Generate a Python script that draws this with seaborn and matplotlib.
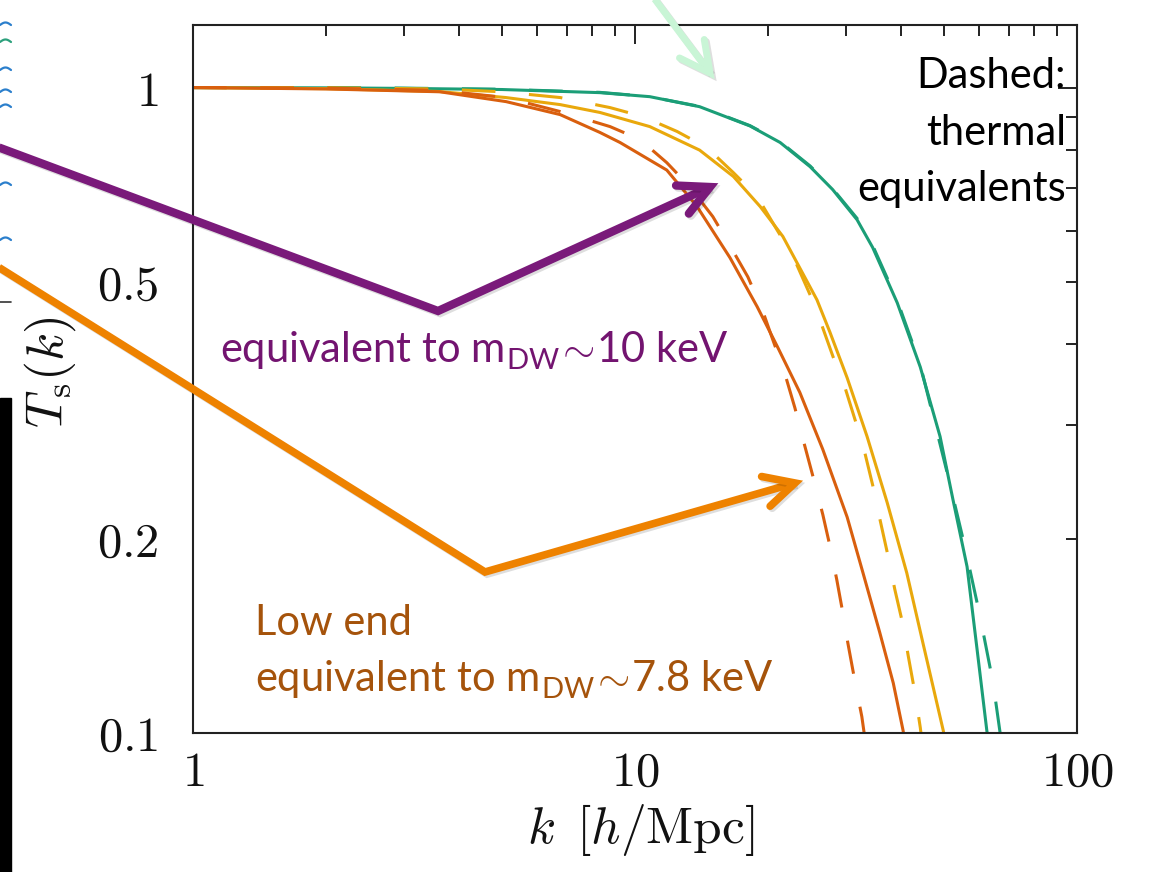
import numpy as np
import pandas as pd
import matplotlib
matplotlib.use("Agg")
import matplotlib.pyplot as plt
import seaborn as sns
from matplotlib.ticker import FixedLocator, FuncFormatter, NullFormatter
from matplotlib.lines import Line2D
from matplotlib.patches import Rectangle
import matplotlib.patheffects as pe

# ---------------- data ----------------
k_green_solid = [1.0, 2.0, 3.0, 5.0, 8.33, 10.8, 14.0, 18.2, 21.3, 24.9, 28.0, 31.8, 34.5,
                 39.2, 44.2, 49.0, 52.4, 56.4, 59.4, 62.5, 63.3]
T_green_solid = [1.0, 0.999, 0.997, 0.993, 0.982, 0.968, 0.934, 0.872, 0.822, 0.754, 0.695, 0.624,
                 0.565, 0.464, 0.369, 0.288, 0.230, 0.181, 0.135, 0.101, 0.095]

k_green_dash = [1.0, 2.0, 3.0, 5.0, 8.33, 10.8, 14.0, 18.2, 21.3, 24.9, 28.0, 31.8, 34.5,
                39.2, 44.2, 51.3, 55.8, 60.3, 64.6, 67.0, 68.0]
T_green_dash = [1.0, 1.0, 0.998, 0.994, 0.983, 0.968, 0.935, 0.873, 0.824, 0.756, 0.697, 0.627,
                0.569, 0.468, 0.372, 0.247, 0.194, 0.152, 0.1195, 0.100, 0.095]

k_yellow_solid = [1.0, 2.0, 3.6, 5.1, 6.77, 8.33, 10.8, 14.0, 16.7, 19.2, 21.6, 25.8, 27.6,
                  30.2, 33.5, 37.2, 41.2, 44.8, 49.8, 50.5]
T_yellow_solid = [1.0, 0.996, 0.986, 0.965, 0.941, 0.915, 0.870, 0.800, 0.728, 0.654, 0.588,
                  0.469, 0.418, 0.355, 0.288, 0.2275, 0.177, 0.138, 0.101, 0.096]

k_yellow_dash = [1.0, 2.0, 3.6, 5.0, 6.77, 8.78, 10.4, 12.45, 14.55, 16.7, 18.9, 20.95, 22.8,
                 25.5, 28.05, 29.9, 31.5, 33.1, 34.5, 35.8, 37.4, 38.7, 40.4, 41.5, 43.0, 44.2, 44.6]
T_yellow_dash = [1.0, 0.999, 0.995, 0.985, 0.965, 0.931, 0.902, 0.855, 0.807, 0.738, 0.678,
                 0.602, 0.547, 0.460, 0.383, 0.342, 0.305, 0.272, 0.242, 0.2147, 0.1875, 0.167,
                 0.147, 0.1318, 0.1153, 0.102, 0.097]

k_red_solid = [1.0, 2.0, 3.62, 5.11, 6.77, 8.33, 9.25, 11.8, 13.8, 16.4, 18.9, 21.0, 23.6,
               26.6, 30.2, 32.8, 35.8, 38.4, 40.4, 40.8]
T_red_solid = [1.0, 0.995, 0.985, 0.951, 0.908, 0.852, 0.822, 0.745, 0.655, 0.545, 0.4575,
               0.3967, 0.337, 0.275, 0.216, 0.177, 0.143, 0.1195, 0.101, 0.097]

k_red_dash = [1.0, 2.0, 3.6, 5.1, 6.77, 8.78, 10.26, 11.8, 13.3, 15.0, 16.4, 18.0, 19.4, 20.5,
              21.8, 23.0, 24.0, 25.3, 26.6, 27.6, 28.6, 29.4, 30.3, 31.5, 32.6, 33.2]
T_red_dash = [1.0, 0.998, 0.99, 0.965, 0.918, 0.870, 0.831, 0.765, 0.702, 0.631, 0.569, 0.509,
              0.453, 0.4067, 0.3615, 0.319, 0.285, 0.249, 0.218, 0.195, 0.173, 0.156, 0.138,
              0.1195, 0.106, 0.097]

x_ticks = [1, 10, 100]
y_major_ticks = [0.1, 1]
y_minor_ticks = [0.2, 0.3, 0.4, 0.5, 0.6, 0.7, 0.8, 0.9]
y_minor_labelled = [0.2, 0.5]

# ---------------- style ----------------
sns.set_theme(style="white")
plt.rcParams['font.family'] = ['Lato', 'DejaVu Sans']
plt.rcParams['mathtext.fontset'] = 'cm'

W, H = 1153, 872
fig = plt.figure(figsize=(W / 100, H / 100), dpi=100)
fig.patch.set_facecolor('white')


def fp(x, y):
    return x / W, 1 - y / H


ax = fig.add_axes([193 / W, 1 - 733 / H, (1077 - 193) / W, (733 - 25) / H])
ax.set_xscale('log')
ax.set_yscale('log')

frames = []
for model, kind, ks, ts in [
    ("mid", "sterile", k_green_solid, T_green_solid),
    ("mid", "thermal", k_green_dash, T_green_dash),
    ("high", "sterile", k_yellow_solid, T_yellow_solid),
    ("high", "thermal", k_yellow_dash, T_yellow_dash),
    ("low", "sterile", k_red_solid, T_red_solid),
    ("low", "thermal", k_red_dash, T_red_dash),
]:
    frames.append(pd.DataFrame({"k": ks, "T": ts, "model": model, "kind": kind}))
df = pd.concat(frames, ignore_index=True)

palette = {"mid": "#1b9e77", "high": "#e9a80c", "low": "#d95f0e"}
sns.lineplot(data=df, x="k", y="T", hue="model", style="kind", palette=palette,
             dashes={"sterile": "", "thermal": (11, 11)}, sort=False, estimator=None,
             linewidth=2.2, legend=False, ax=ax)

ax.set_xlim(1, 100)
ax.set_ylim(0.1, 1.25)

fmt = FuncFormatter(lambda v, p: f'${v:g}$')
ax.xaxis.set_major_locator(FixedLocator(x_ticks))
ax.xaxis.set_major_formatter(fmt)
ax.xaxis.set_minor_locator(FixedLocator([m * d for d in (1, 10) for m in range(2, 10)]))
ax.xaxis.set_minor_formatter(NullFormatter())
ax.yaxis.set_major_locator(FixedLocator(y_major_ticks))
ax.yaxis.set_major_formatter(fmt)
ax.yaxis.set_minor_locator(FixedLocator(y_minor_ticks))
ax.yaxis.set_minor_formatter(FuncFormatter(
    lambda v, p: f'${v:g}$' if any(abs(v - t) < 1e-6 for t in y_minor_labelled) else ''))

ax.tick_params(which='both', direction='in', top=True, right=True, color='#222222',
               width=1.4, labelsize=35, labelcolor='#111111')
ax.tick_params(which='major', length=14)
ax.tick_params(which='minor', length=8)
ax.tick_params(axis='y', which='both', pad=25)
ax.tick_params(axis='x', which='both', pad=12)
for s in ax.spines.values():
    s.set_color('#222222')
    s.set_linewidth(1.5)

ax.set_xlabel(r'$k\ \,[h/\mathrm{Mpc}]$', fontsize=37, color='#111111')
ax.set_ylabel(r'$T_{\rm s}(k)$', fontsize=37, color='#111111')
ax.xaxis.set_label_coords((641 - 193) / 884, (733 - 802) / 708)
ax.yaxis.set_label_coords((78 - 193) / 884, (733 - 372) / 708)

# ---------------- annotations ----------------
shadow = [pe.SimpleLineShadow(offset=(1.5, -1.5), shadow_color='black', alpha=0.13), pe.Normal()]


def arrow(points, color, lw, head=34, ang=27):
    xs = [p[0] for p in points]
    ys = [p[1] for p in points]
    fx = [x / W for x in xs]
    fy = [1 - y / H for y in ys]
    ln = Line2D(fx, fy, transform=fig.transFigure, color=color, lw=lw,
                solid_joinstyle='miter', solid_capstyle='butt', path_effects=shadow, zorder=10)
    fig.add_artist(ln)
    (x0, y0), (x1, y1) = points[-2], points[-1]
    d = np.array([x0 - x1, y0 - y1], float)
    d /= np.hypot(*d)
    bx, by = [], []
    for sgn in (1, -1):
        a = np.deg2rad(ang * sgn)
        r = np.array([d[0] * np.cos(a) - d[1] * np.sin(a), d[0] * np.sin(a) + d[1] * np.cos(a)])
        bx.append(x1 + head * r[0])
        by.append(y1 + head * r[1])
    hx = [bx[0], x1, bx[1]]
    hy = [by[0], y1, by[1]]
    hd = Line2D([x / W for x in hx], [1 - y / H for y in hy], transform=fig.transFigure,
                color=color, lw=lw, solid_joinstyle='miter', solid_capstyle='round',
                path_effects=shadow, zorder=10)
    fig.add_artist(hd)


purple = '#7a1a7a'
orange = '#ee8200'
arrow([(-5, 146), (438, 311), (710, 187)], purple, 6)
arrow([(-5, 265), (485, 572), (795, 483)], orange, 5.5)
arrow([(648, -10), (710, 73)], '#c9f5d6', 5)

fig.text(*fp(1066, 88), 'Dashed:', ha='right', va='baseline', fontsize=30, color='black')
fig.text(*fp(1066, 145), 'thermal', ha='right', va='baseline', fontsize=30, color='black')
fig.text(*fp(1066, 201), 'equivalents', ha='right', va='baseline', fontsize=30, color='black')

ptxt = '#731470'
otxt = '#a5530b'
fig.text(*fp(220, 363), r'equivalent to m$_{\mathregular{DW}}\!\sim\!$10 keV', ha='left',
         va='baseline', fontsize=30, color=ptxt)
fig.text(*fp(255, 635), 'Low end', ha='left', va='baseline', fontsize=30, color=otxt)
fig.text(*fp(255, 692), r'equivalent to m$_{\mathregular{DW}}\!\sim\!$7.8 keV', ha='left',
         va='baseline', fontsize=30, color=otxt)

# ---------------- cropped fragments at the left edge ----------------
fig.add_artist(Rectangle(fp(0, 872), 11 / W, (872 - 398) / H, transform=fig.transFigure,
                         color='black', zorder=5))
fig.add_artist(Line2D([0, 11 / W], [1 - 302 / H] * 2, transform=fig.transFigure,
                      color='#333333', lw=1.2))
tt = np.linspace(0, 1, 20)
for y0, col in [(25, '#2b7fcc'), (42, '#2ca07c'), (70, '#2b7fcc'), (92, '#2b7fcc'),
                (107, '#2b7fcc'), (185, '#2b7fcc'), (240, '#2b7fcc')]:
    xs = tt * 11
    ys = y0 - 2.5 * np.sin(np.pi * tt)
    fig.add_artist(Line2D(xs / W, 1 - ys / H, transform=fig.transFigure, color=col, lw=1.6))

fig.savefig('out.png', dpi=100)
